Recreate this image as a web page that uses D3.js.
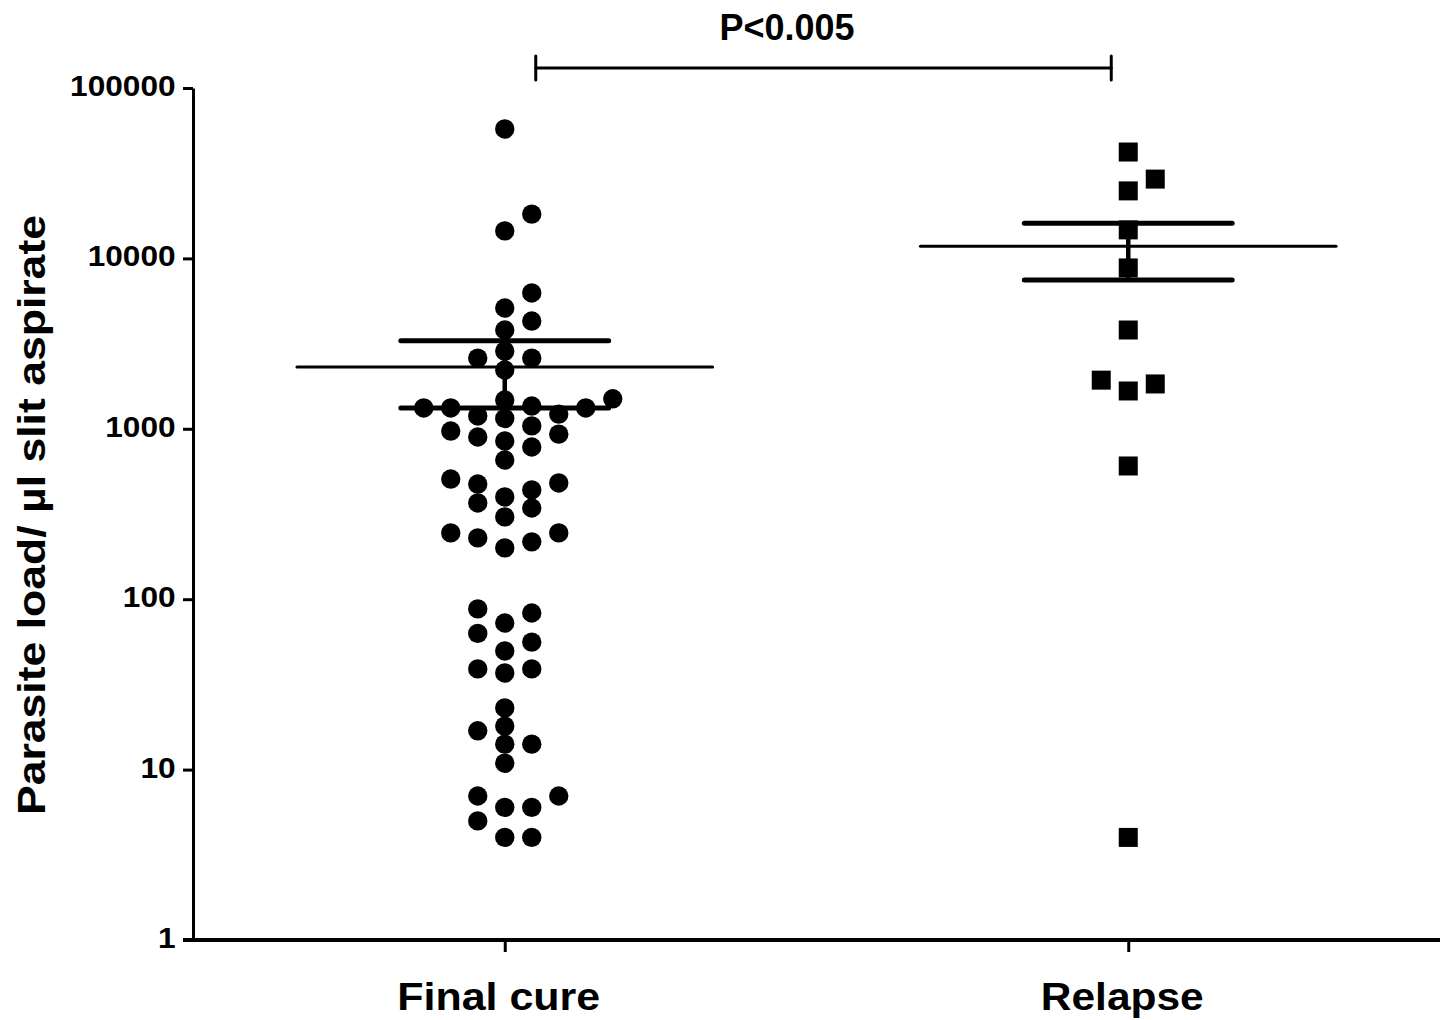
<!DOCTYPE html>
<html>
<head>
<meta charset="utf-8">
<script src="https://cdn.jsdelivr.net/npm/d3@7"></script>
<style>
  html, body { margin: 0; padding: 0; background: #fff; }
  svg text { font-family: "Liberation Sans", Arial, sans-serif; font-weight: bold; fill: #000; }
</style>
</head>
<body>
<div id="main-chart"></div>
<script>
const categories = ["Final cure", "Relapse"];

const finalCure = [
  57500, 18200, 14500, 6270, 5115, 4290, 3800, 2860, 2600, 2600,
  2213, 1475, 1500, 1325, 1325, 1325, 1360, 1190, 1150, 1220,
  1040, 930, 848, 970, 895, 782, 656, 507, 474, 438,
  481, 398, 367, 343, 304, 245, 217, 200, 229, 245,
  83, 87.7, 72.5, 63, 56, 49.7, 39, 36.9, 39, 23,
  18, 16.9, 14.1, 14.1, 10.9, 7, 6, 6, 7, 5,
  4, 4
];

const relapse = [42100, 29200, 24900, 14700, 8790, 3800, 1930, 1667, 1833, 605, 4];

const yTicks = [1, 10, 100, 1000, 10000, 100000];
const yTitle = "Parasite load/  \u00b5l slit aspirate";
const pLabel = "P<0.005";

const chart = document.getElementById('main-chart');
const width = 1445;
const height = 1020;
const margin = { top: 88, right: 5, bottom: 80, left: 193 };

const svg = d3.select(chart)
  .append('svg')
  .attr('width', width)
  .attr('height', height);

const x = d3.scalePoint()
  .domain(categories)
  .range([margin.left, width - margin.right])
  .padding(0.5);

const y = d3.scaleLog()
  .domain([1, 100000])
  .range([height - margin.bottom, margin.top]);

const band = x.step();
const slotWidth = 27;

// greedy column layout, like Prism's scatter dot plot
function swarm(values, minGap) {
  const pts = values.map(v => ({ v, py: y(v) })).sort((a, b) => a.v - b.v);
  const placed = [];
  pts.forEach(d => {
    for (let k = 0; ; k++) {
      const slot = k === 0 ? 0 : (k % 2 ? (k + 1) / 2 : -k / 2);
      const hit = placed.some(p => p.slot === slot && Math.abs(p.py - d.py) < minGap);
      if (!hit) { d.slot = slot; placed.push(d); break; }
    }
  });
  return placed;
}

// axes
const yAxis = svg.append('g')
  .attr('transform', `translate(${margin.left},0)`)
  .call(d3.axisLeft(y).tickValues(yTicks).tickFormat(d3.format('d')).tickSize(10).tickSizeOuter(0).tickPadding(6));
yAxis.select('.domain').attr('stroke-width', 3);
yAxis.selectAll('.tick line').attr('stroke-width', 3);
yAxis.selectAll('.tick text')
  .attr('font-size', 29)
  .attr('dy', '0.26em')
  .attr('transform', 'scale(1.09,1)');

const xAxis = svg.append('g')
  .attr('transform', `translate(0,${height - margin.bottom})`)
  .call(d3.axisBottom(x).tickSize(12).tickSizeOuter(0).tickFormat(''));
xAxis.select('.domain').attr('stroke-width', 4).attr('d', `M${margin.left - 10},0H${width - margin.right}`);
xAxis.selectAll('.tick line').attr('stroke-width', 3);

svg.selectAll('.cat-label')
  .data(categories)
  .join('text')
  .attr('class', 'cat-label')
  .attr('x', d => x(d) - 6)
  .attr('y', 1010)
  .attr('text-anchor', 'middle')
  .attr('font-size', 39)
  .attr('textLength', d => d === 'Relapse' ? 163 : 203)
  .attr('lengthAdjust', 'spacingAndGlyphs')
  .text(d => d);

svg.append('text')
  .attr('transform', `translate(45,515) rotate(-90)`)
  .attr('text-anchor', 'middle')
  .attr('font-size', 38)
  .attr('textLength', 600)
  .attr('lengthAdjust', 'spacingAndGlyphs')
  .text(yTitle);

// points
const cureDots = swarm(finalCure, 18);
svg.append('g')
  .selectAll('circle')
  .data(cureDots)
  .join('circle')
  .attr('cx', d => x(categories[0]) + d.slot * slotWidth)
  .attr('cy', d => d.py)
  .attr('r', 9.7)
  .attr('fill', '#000');

const relDots = swarm(relapse, 18);
const side = 19;
svg.append('g')
  .selectAll('rect')
  .data(relDots)
  .join('rect')
  .attr('x', d => x(categories[1]) + d.slot * slotWidth - side / 2)
  .attr('y', d => d.py - side / 2)
  .attr('width', side)
  .attr('height', side)
  .attr('fill', '#000');

// mean +/- SEM
[finalCure, relapse].forEach((vals, i) => {
  const cx = x(categories[i]);
  const m = d3.mean(vals);
  const sem = d3.deviation(vals) / Math.sqrt(vals.length);
  const g = svg.append('g').attr('stroke', '#000').attr('stroke-linecap', 'round');
  g.append('line')
    .attr('x1', cx - band / 3).attr('x2', cx + band / 3)
    .attr('y1', y(m)).attr('y2', y(m))
    .attr('stroke-width', 3);
  g.append('line')
    .attr('x1', cx).attr('x2', cx)
    .attr('y1', y(m - sem)).attr('y2', y(m + sem))
    .attr('stroke-width', 4.5);
  [m - sem, m + sem].forEach(v => {
    g.append('line')
      .attr('x1', cx - band / 6).attr('x2', cx + band / 6)
      .attr('y1', y(v)).attr('y2', y(v))
      .attr('stroke-width', 5);
  });
});

// significance bracket
const bx1 = x(categories[0]) + 31;
const bx2 = x(categories[1]) - 17;
const by = 68;
const br = svg.append('g').attr('stroke', '#000').attr('stroke-width', 3).attr('stroke-linecap', 'round');
br.append('line').attr('x1', bx1).attr('x2', bx2).attr('y1', by).attr('y2', by);
br.append('line').attr('x1', bx1).attr('x2', bx1).attr('y1', by - 12).attr('y2', by + 12);
br.append('line').attr('x1', bx2).attr('x2', bx2).attr('y1', by - 12).attr('y2', by + 12);

svg.append('text')
  .attr('x', 787)
  .attr('y', 40)
  .attr('text-anchor', 'middle')
  .attr('font-size', 36)
  .text(pLabel);
</script>
</body>
</html>
